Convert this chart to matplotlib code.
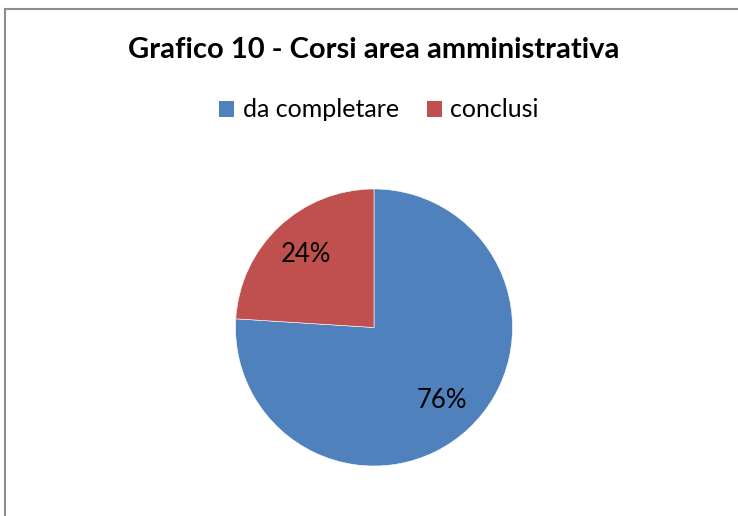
import matplotlib
matplotlib.use("Agg")
import matplotlib.pyplot as plt
from matplotlib.lines import Line2D
from matplotlib.patches import Patch

# chart data
categories = ["da completare", "conclusi"]
values = [76, 24]
colors = ["#4F81BD", "#C0504D"]
title = "Grafico 10 - Corsi area amministrativa"

plt.rcParams['font.family'] = ['Lato', 'DejaVu Sans']

fig = plt.figure(figsize=(7.38, 5.16), dpi=100)

# chart frame (only left and top edges visible in the crop)
fig.add_artist(Line2D([4.5 / 738, 4.5 / 738], [0, 1 - 8.5 / 516], transform=fig.transFigure,
                      color="#8c8c8c", lw=1.5))
fig.add_artist(Line2D([4.5 / 738, 1], [1 - 8.5 / 516, 1 - 8.5 / 516], transform=fig.transFigure,
                      color="#8c8c8c", lw=1.5))

# pie axes: centre (374, 327.5), radius 138.5 px
ax = fig.add_axes([(374 - 138.5) / 738, (516 - 327.5 - 138.5) / 516, 277 / 738, 277 / 516])
wedges, texts, autotexts = ax.pie(values, colors=colors, startangle=90, counterclock=False,
                                  autopct='%d%%', pctdistance=0.72,
                                  wedgeprops=dict(edgecolor="white", linewidth=0.4))
for t in autotexts:
    t.set_fontsize(18.5)
    t.set_color("black")
ax.set_xlim(-1, 1)
ax.set_ylim(-1, 1)
ax.set_aspect('equal')

fig.text(374 / 738, 1 - 50 / 516, title, ha='center', va='center', fontsize=21, fontweight='bold')

handles = [Patch(facecolor=c, edgecolor='none') for c in colors]
fig.legend(handles, categories, loc='center', bbox_to_anchor=(379 / 738, 1 - 110 / 516), ncol=2,
           frameon=False, fontsize=18, handlelength=0.6, handleheight=0.6, handletextpad=0.35,
           columnspacing=1.1)

fig.savefig("out.png", dpi=100)
